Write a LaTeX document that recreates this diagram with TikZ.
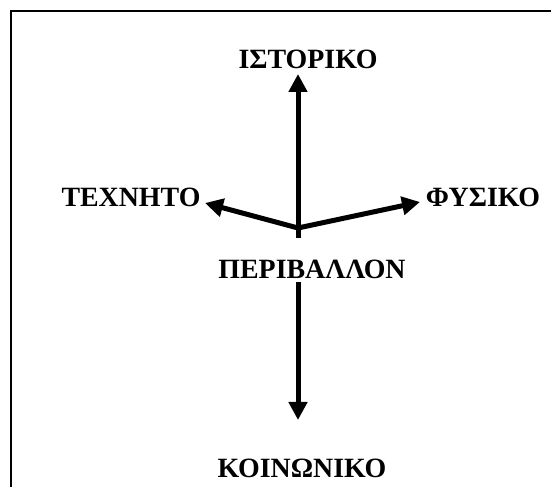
\documentclass[tikz,border=0pt]{standalone}
\usepackage{fontspec}
\setmainfont{Liberation Serif}
\usetikzlibrary{arrows.meta}
\begin{document}
\begin{tikzpicture}[x=1bp,y=1bp,
  lbl/.style={font=\fontsize{28}{30}\selectfont\bfseries, inner sep=0pt, anchor=base},
  arr/.style={line width=5bp, -{Triangle[length=18bp,width=18bp]}},
  frame/.style={line width=1.3bp}]
\useasboundingbox (0,0) rectangle (551,487);
\draw[frame] (11,0) -- (11,476) -- (551,476);
\node[lbl] (ist) at (308,418) {ΙΣΤΟΡΙΚΟ};
\node[lbl] (tex) at (131,280) {ΤΕΧΝΗΤΟ};
\node[lbl] (fys) at (483,280) {ΦΥΣΙΚΟ};
\node[lbl] (per) at (312,208) {ΠΕΡΙΒΑΛΛΟΝ};
\node[lbl] (koi) at (302,9) {ΚΟΙΝΩΝΙΚΟ};
\coordinate (J) at (298,259);
\coordinate (Jb) at (298,249);
\coordinate (ut) at (298,413);
\coordinate (lt) at (205,284);
\coordinate (rt) at (420,285);
\coordinate (ds) at (298,205);
\coordinate (dt) at (298,67);
\draw[arr] (Jb) -- (ut);
\draw[arr] (J) -- (lt);
\draw[arr] (J) -- (rt);
\draw[arr] (ds) -- (dt);
\end{tikzpicture}
\end{document}
